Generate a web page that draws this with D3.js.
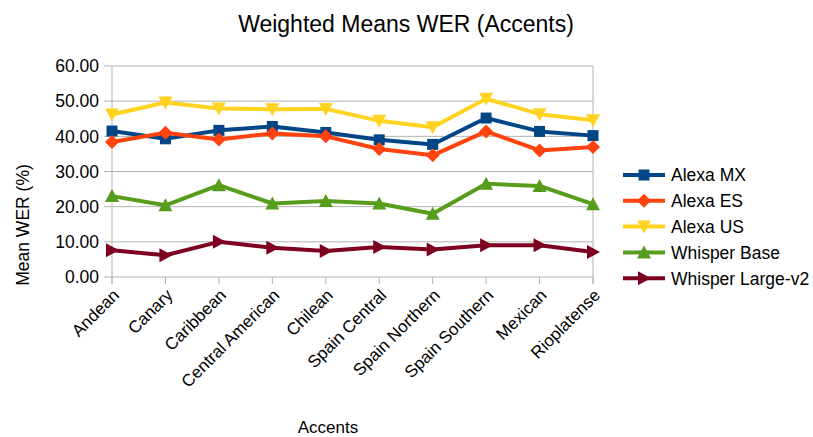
<!DOCTYPE html>
<html>
<head>
<meta charset="utf-8">
<script src="https://cdn.jsdelivr.net/npm/d3@7"></script>
<style>
  html, body { margin: 0; padding: 0; background: #ffffff; }
  svg { display: block; font-family: "Liberation Sans", Arial, sans-serif; }
</style>
</head>
<body>
<svg id="chart" width="813" height="437"></svg>
<script>
// Accent categories along the x axis
const accents = ["Andean", "Canary", "Caribbean", "Central American", "Chilean",
  "Spain Central", "Spain Northern", "Spain Southern", "Mexican", "Rioplatense"];

// Weighted mean WER (%) per system and accent
const alexaMX = [41.5, 39.3, 41.7, 42.8, 41.1, 39.0, 37.7, 45.2, 41.4, 40.2];
const alexaES = [38.4, 41.0, 39.1, 40.8, 40.0, 36.4, 34.6, 41.4, 36.0, 37.0];
const alexaUS = [46.2, 49.6, 47.9, 47.7, 47.8, 44.4, 42.6, 50.7, 46.3, 44.6];
const whisperBase = [23.0, 20.4, 26.1, 20.9, 21.6, 20.9, 18.0, 26.5, 25.9, 20.7];
const whisperLarge = [7.6, 6.2, 10.0, 8.3, 7.4, 8.5, 7.8, 9.0, 9.0, 7.1];

const seriesNames = ["Alexa MX", "Alexa ES", "Alexa US", "Whisper Base", "Whisper Large-v2"];
const seriesValues = [alexaMX, alexaES, alexaUS, whisperBase, whisperLarge];
const seriesColors = ["#004586", "#ff420e", "#ffd320", "#579d1c", "#7e0021"];
const seriesMarkers = ["square", "diamond", "down", "up", "right"];

const yTicks = [0, 10, 20, 30, 40, 50, 60];

const svg = d3.select("#chart");
const plot = { left: 112, right: 593, top: 66, bottom: 277 };

const x = d3.scalePoint().domain(accents).range([plot.left, plot.right]);
const y = d3.scaleLinear().domain([0, 60]).range([plot.bottom, plot.top]);

// Title
svg.append("text")
  .attr("x", 406).attr("y", 32)
  .attr("text-anchor", "middle")
  .attr("font-size", 23)
  .attr("fill", "#000")
  .text("Weighted Means WER (Accents)");

// Horizontal grid lines with outward tick stubs
const gridColor = "#b3b3b3";
svg.append("g")
  .selectAll("line")
  .data(yTicks)
  .join("line")
  .attr("x1", plot.left - 8).attr("x2", plot.right)
  .attr("y1", d => y(d)).attr("y2", d => y(d))
  .attr("stroke", gridColor).attr("stroke-width", 1);

// Left axis line and right border of the plot area
svg.append("line")
  .attr("x1", plot.left).attr("x2", plot.left)
  .attr("y1", plot.top).attr("y2", plot.bottom + 7)
  .attr("stroke", gridColor);
svg.append("line")
  .attr("x1", plot.right).attr("x2", plot.right)
  .attr("y1", plot.top).attr("y2", plot.bottom + 7)
  .attr("stroke", gridColor);

// X axis tick stubs
svg.append("g")
  .selectAll("line")
  .data(accents)
  .join("line")
  .attr("x1", d => x(d)).attr("x2", d => x(d))
  .attr("y1", plot.bottom).attr("y2", plot.bottom + 7)
  .attr("stroke", gridColor);

// Y tick labels
svg.append("g")
  .selectAll("text")
  .data(yTicks)
  .join("text")
  .attr("x", plot.left - 13)
  .attr("y", d => y(d))
  .attr("dy", "0.36em")
  .attr("text-anchor", "end")
  .attr("font-size", 17.5)
  .attr("fill", "#000")
  .text(d => d3.format(".2f")(d));

// X tick labels, rotated
svg.append("g")
  .selectAll("text")
  .data(accents)
  .join("text")
  .attr("transform", d => `translate(${x(d) + 4},${plot.bottom + 15}) rotate(-45)`)
  .attr("text-anchor", "end")
  .attr("dy", "0.35em")
  .attr("font-size", 17)
  .attr("fill", "#000")
  .text(d => d);

// Axis titles
svg.append("text")
  .attr("transform", "translate(29,225) rotate(-90)")
  .attr("text-anchor", "middle")
  .attr("font-size", 17.5)
  .attr("fill", "#000")
  .text("Mean WER (%)");

svg.append("text")
  .attr("x", 328).attr("y", 433)
  .attr("text-anchor", "middle")
  .attr("font-size", 17)
  .attr("fill", "#000")
  .text("Accents");

// Marker path generator centred on 0,0
function markerPath(type) {
  switch (type) {
    case "square": return "M-5.5,-5.5H5.5V5.5H-5.5Z";
    case "diamond": return "M0,-7L7,0L0,7L-7,0Z";
    case "down": return "M-7,-6H7L0,7Z";
    case "up": return "M-7,6H7L0,-7Z";
    case "right": return "M-6,-7L7,0L-6,7Z";
  }
}

const line = d3.line()
  .x((d, i) => x(accents[i]))
  .y(d => y(d));

seriesValues.forEach((vals, s) => {
  const g = svg.append("g");
  g.append("path")
    .datum(vals)
    .attr("d", line)
    .attr("fill", "none")
    .attr("stroke", seriesColors[s])
    .attr("stroke-width", 4)
    .attr("stroke-linejoin", "round");
  g.selectAll("path.m")
    .data(vals)
    .join("path")
    .attr("class", "m")
    .attr("transform", (d, i) => `translate(${x(accents[i])},${y(d)})`)
    .attr("d", markerPath(seriesMarkers[s]))
    .attr("fill", seriesColors[s]);
});

// Legend
const legend = svg.append("g");
seriesNames.forEach((name, s) => {
  const cy = 175 + s * 25.8;
  const row = legend.append("g");
  row.append("line")
    .attr("x1", 623).attr("x2", 665)
    .attr("y1", cy).attr("y2", cy)
    .attr("stroke", seriesColors[s]).attr("stroke-width", 4);
  row.append("path")
    .attr("transform", `translate(644,${cy})`)
    .attr("d", markerPath(seriesMarkers[s]))
    .attr("fill", seriesColors[s]);
  row.append("text")
    .attr("x", 671).attr("y", cy)
    .attr("dy", "0.36em")
    .attr("font-size", 17.5)
    .attr("fill", "#000")
    .text(name);
});
</script>
</body>
</html>
